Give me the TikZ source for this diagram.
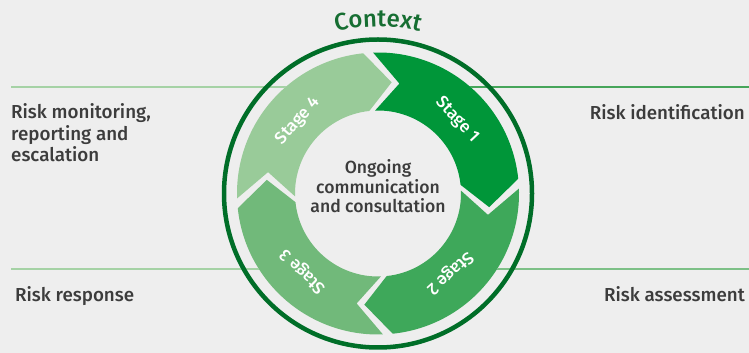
\documentclass[tikz,border=0pt]{standalone}
\usepackage{fontspec}
\setmainfont{Fira Sans}[UprightFont={* Medium}]
\usetikzlibrary{decorations.text}
\definecolor{bggray}{RGB}{238,238,238}
\definecolor{stageone}{RGB}{0,150,57}
\definecolor{stagetwo}{RGB}{62,168,90}
\definecolor{stagethree}{RGB}{113,185,122}
\definecolor{stagefour}{RGB}{153,203,153}
\definecolor{ringgreen}{RGB}{0,110,40}
\definecolor{contextgreen}{RGB}{22,110,50}
\definecolor{textgray}{RGB}{60,60,60}
\definecolor{lineleft}{RGB}{165,210,165}
\definecolor{linetopright}{RGB}{70,165,90}
\definecolor{linebottomright}{RGB}{125,192,135}
% curved stage arrow: colour, tail angle, head angle
\newcommand{\stagearrow}[3]{%
    \fill[#1] ([shift={(#2-2:141)}]C) arc[start angle=#2-2, end angle=#3+2, radius=141]
        -- ([shift={(#3-11:112)}]C) -- ([shift={(#3+2:83)}]C)
        arc[start angle=#3+2, end angle=#2-2, radius=83]
        -- ([shift={(#2-15:112)}]C) -- cycle;}

\begin{document}
\begin{tikzpicture}[x=1pt, y=1pt,
    sidelabel/.style={text=textgray, font=\fontsize{18.8}{21.5}\selectfont, inner sep=0pt, align=left},
    centerlabel/.style={text=textgray, font=\fontsize{17.6}{19.5}\selectfont, inner sep=0pt, align=center},
    stagelabel/.style={text=white, font=\fontsize{17}{18}\selectfont, inner sep=0pt},
    divider/.style={line width=1.3}]
        \useasboundingbox[fill=bggray] (0,0) rectangle (749,353);
        \coordinate (C) at (378,159.5);

        % Divider lines
        \coordinate (topleft) at (11,266);
        \coordinate (bottomleft) at (11,84);
        \coordinate (topright) at (749,266);
        \coordinate (bottomright) at (749,84);
        \draw[divider, lineleft] (topleft) -- (topleft -| C);
        \draw[divider, lineleft] (bottomleft) -- (bottomleft -| C);
        \draw[divider, linetopright] (topright) -- (topright -| C);
        \draw[divider, linebottomright] (bottomright) -- (bottomright -| C);

        % Backdrop and outer ring
        \fill[bggray] (C) circle[radius=141];
        \draw[ringgreen, line width=4.5] (C) circle[radius=154];

        % Stage arrows
        \stagearrow{stageone}{94}{4}
        \stagearrow{stagetwo}{4}{-86}
        \stagearrow{stagethree}{-86}{-176}
        \stagearrow{stagefour}{184}{94}

        % Stage labels
        \node[stagelabel, rotate=-47] (S1) at ([shift={(43:108)}]C) {Stage 1};
        \node[stagelabel, rotate=-138] (S2) at ([shift={(-48:107)}]C) {Stage 2};
        \node[stagelabel, rotate=136] (S3) at ([shift={(-134:108)}]C) {Stage 3};
        \node[stagelabel, rotate=48] (S4) at ([shift={(138:108)}]C) {Stage 4};

        % Centre text
        \node[centerlabel, anchor=base] (talk) at (378,140) {Ongoing\\communication\\and consultation};

        % Context on the arc
        \path[decorate, decoration={text along path, text color=contextgreen,
            text={|\fontsize{24}{24}\selectfont|Context}, text align=center}]
            ([shift={(120:167)}]C) arc[start angle=120, end angle=60, radius=167];

        % Side labels
        \node[sidelabel, anchor=base west] (monitor) at (11,191) {Risk monitoring,\\reporting and\\escalation};
        \node[sidelabel, anchor=base west] (response) at (15,51) {Risk response};
        \node[sidelabel, anchor=base east] (ident) at (745,233) {Risk identification};
        \node[sidelabel, anchor=base east] (assess) at (745,51) {Risk assessment};
\end{tikzpicture}
\end{document}
